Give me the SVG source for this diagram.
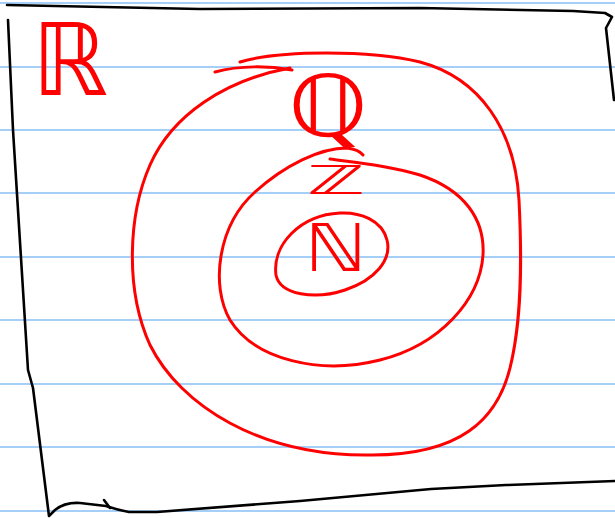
<svg xmlns="http://www.w3.org/2000/svg" width="615" height="518" viewBox="0 0 615 518">
<style>
.rule{stroke:#a6cff7;stroke-width:2}
.ink{fill:none;stroke:#000;stroke-width:2.6;stroke-linecap:round;stroke-linejoin:round}
.set{fill:none;stroke:#f00;stroke-width:3;stroke-linecap:round;stroke-linejoin:round}
.lbl{fill:#f00;font-family:"DejaVu Sans","Noto Sans",sans-serif}
</style>
<rect width="615" height="518" fill="#fff"/>
<g id="paper-lines">
<line class="rule" x1="0" y1="3" x2="615" y2="3"/>
<line class="rule" x1="0" y1="67" x2="615" y2="67"/>
<line class="rule" x1="0" y1="130" x2="615" y2="130"/>
<line class="rule" x1="0" y1="193" x2="615" y2="193"/>
<line class="rule" x1="0" y1="257" x2="615" y2="257"/>
<line class="rule" x1="0" y1="320" x2="615" y2="320"/>
<line class="rule" x1="0" y1="384" x2="615" y2="384"/>
<line class="rule" x1="0" y1="447" x2="615" y2="447"/>
<line class="rule" x1="0" y1="511" x2="615" y2="511"/>
</g>
<g id="R">
<path class="ink" d="M7,5 L200,9 L420,8 L573,11 L605,13 L612,17 L606,28 L614,100"/>
<path class="ink" d="M8,20 L13,130 L28,370 L33,388 L49,516 L55,510 Q65,502 80,503 L106,506 Q118,510 129,512 L157,512 L300,501 L431,489 L506,485 L615,481"/>
<path class="ink" d="M104,500 L110,508"/>
<text class="lbl" x="32" y="95" font-size="100" textLength="76" lengthAdjust="spacingAndGlyphs">ℝ</text>
</g>
<g id="Q">
<path class="set" d="M215,72 C240,65 270,66 292,70"/>
<path class="set" d="M240,62 C280,50 370,50 420,62 C480,78 515,130 519,200 C522,260 522,320 510,368 C497,420 460,455 372,455 C260,457 180,405 150,345 C125,290 128,215 150,165 C172,115 225,80 290,68"/>
<text class="lbl" x="288" y="136" font-size="85" textLength="80" lengthAdjust="spacingAndGlyphs">ℚ</text>
</g>
<g id="Z">
<path class="set" d="M330,159 C360,163 390,166 420,175 C465,190 485,220 483,255 C480,300 440,345 380,360 C320,375 255,360 230,320 C210,285 218,225 255,192 C285,165 320,148 347,148 C355,149 360,151 363,155"/>
<text class="lbl" x="307" y="194" font-size="40" textLength="58" lengthAdjust="spacingAndGlyphs">ℤ</text>
</g>
<g id="N">
<path class="set" d="M340,213 C300,215 272,245 276,275 C280,295 315,300 345,290 C375,280 392,260 387,240 C382,220 360,212 340,213"/>
<text class="lbl" x="305" y="271" font-size="66" textLength="62" lengthAdjust="spacingAndGlyphs">ℕ</text>
</g>
</svg>
